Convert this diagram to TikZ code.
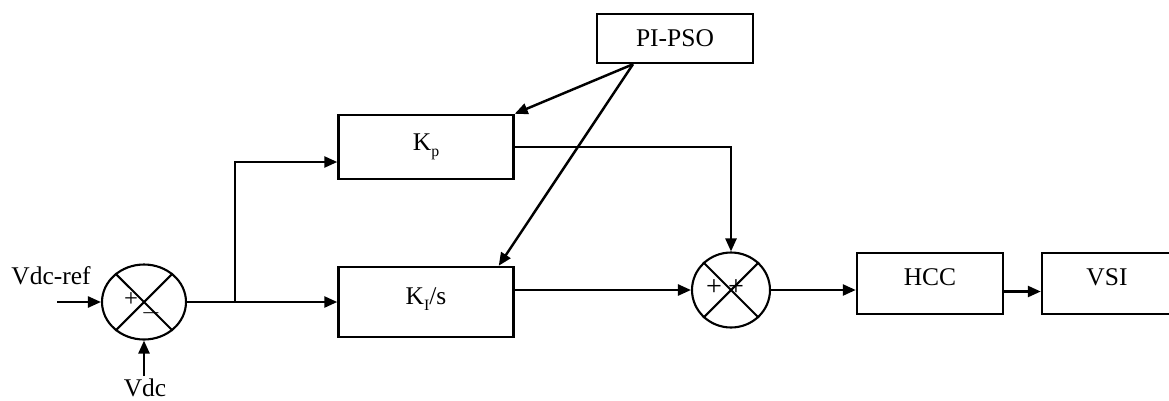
\documentclass[tikz,border=0pt]{standalone}
\usepackage{fontspec}
\setmainfont{Liberation Serif}
\usepackage{tikz}
\usetikzlibrary{positioning,shapes.geometric,arrows.meta}
\newcommand{\lowsub}[1]{\raisebox{-0.55ex}{\fontsize{9}{9}\selectfont #1}}

\begin{document}
\begin{tikzpicture}[
  x=0.02cm, y=-0.02cm,
  font=\fontsize{14.5}{17}\selectfont,
  line width=1.4pt,
  every node/.style={align=center},
  block/.style={draw, line width=1.4pt, inner sep=0pt, minimum width=3.5cm, minimum height=1.28cm},
  summer/.style={draw, ellipse, line width=1.2pt, inner sep=0pt, minimum width=1.68cm, minimum height=1.5cm},
  sign/.style={inner sep=0pt, font=\fontsize{14}{14}\selectfont},
  flow/.style={-{Triangle[length=2.6mm, width=2.2mm]}},
]
\clip (0,0) rectangle (1169,400);
% comparator
\node[summer] (sum1) at (144,302) {};
\draw[line width=1.2pt] (sum1.45) -- (sum1.225) (sum1.135) -- (sum1.315);
\node[sign] (plus1) at (131,300) {+};
\node[sign] (minus1) at (151,313) {$-$};
\coordinate (vref) at (57,302);
\node (vreflbl) at (51,276) {Vdc-ref};
\coordinate (vdcin) at (144,376);
\node[inner sep=1pt] (vdclbl) at (145,388) {Vdc};
\coordinate (split) at (235,302);
% PI branches
\node[block] (kp) at (426,147) {K\lowsub{p}};
\node[block, minimum height=1.4cm, text depth=2.4mm] (ki) at (426,302) {K\lowsub{I}/s};
% tuner
\node[block, minimum width=3.12cm, minimum height=0.98cm] (pso) at (675,38.5) {PI-PSO};
% adder
\node[summer, minimum width=1.56cm] (sum2) at (731,290) {};
\draw[line width=1.2pt] (sum2.45) -- (sum2.225) (sum2.135) -- (sum2.315);
\node[sign, font=\fontsize{16}{16}\selectfont] (plus2a) at (714,288) {+};
\node[sign, font=\fontsize{16}{16}\selectfont] (plus2b) at (736,288) {+};
% current control and inverter
\node[block, minimum width=2.92cm, minimum height=1.22cm, text depth=2.4mm] (hcc) at (930,283.5) {HCC};
\node[block, minimum width=2.6cm, minimum height=1.22cm, text depth=2.4mm] (vsi) at (1107,283.5) {VSI};
% flow
\draw[flow] (vref) -- (sum1.west);
\draw[flow] (vdcin) -- (sum1.south);
\draw (sum1.east) -- (split);
\draw[flow] (split) -- (split -| ki.west);
\draw[flow] (split) |- ([yshift=-0.3cm]kp.west);
\draw[flow] ([xshift=-0.84cm]pso.south) -- (kp.north east);
\draw[flow] ([xshift=-0.84cm]pso.south) -- ([xshift=-0.32cm]ki.north east);
\draw[flow] (kp.east) -| (sum2.north);
\draw[flow] (sum2.west -| ki.east) -- (sum2.west);
\draw[flow] (sum2.east) -- (sum2.east -| hcc.west);
\draw[flow] ([yshift=-0.16cm]hcc.east) -- ([yshift=-0.16cm]hcc.east -| vsi.west);
\end{tikzpicture}
\end{document}
